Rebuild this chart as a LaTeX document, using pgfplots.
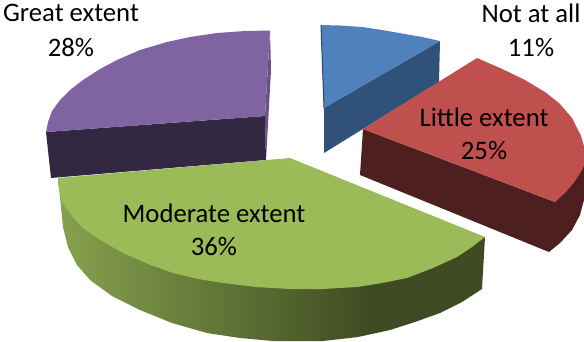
\documentclass[border=0pt]{standalone}
\usepackage{pgfplots}
\pgfplotsset{compat=1.18}
\usepackage{fontspec}
\setmainfont{Carlito}
\definecolor{blueTop}{HTML}{4F81BD}
\definecolor{blueEdge}{HTML}{27476E}
\definecolor{blueWall}{HTML}{30527A}
\definecolor{redTop}{HTML}{C0504D}
\definecolor{redWall}{HTML}{4D1F1F}
\definecolor{greenTop}{HTML}{9BBB59}
\definecolor{greenA}{HTML}{86A24D}
\definecolor{greenB}{HTML}{3E4A22}
\definecolor{purpleTop}{HTML}{8064A2}
\definecolor{purpleWall}{HTML}{332842}
\definecolor{purpleEdge}{HTML}{6A5288}
\pgfdeclarehorizontalshading{greenwall}{100bp}{color(0bp)=(greenA);color(25bp)=(greenA);color(62bp)=(greenB);color(100bp)=(greenB)}
\begin{document}
\begin{tikzpicture}
\begin{axis}[
  scale only axis, width=584pt, height=341pt,
  xmin=0, xmax=584, ymin=0, ymax=341, y dir=reverse,
  axis lines=none, clip=true,
  every axis plot/.append style={draw=none, line width=0pt},
]
% Page extent
\path (axis cs:0,0) rectangle (axis cs:584,341);
% Not at all: 11%
\addplot[fill=blueWall] coordinates {(440,41)(324,108)(324,153)(439,82)} -- cycle;
\addplot[fill=blueTop] coordinates {(321,25)(340,25.5)(362,27)(382,30)(402,33.5)(422,37)(440,41)(324,108)} -- cycle;
\addplot[fill=blueEdge] coordinates {(320.5,25)(321.5,25)(324.5,108)(323.5,108)} -- cycle;
% Great extent: 28%
\addplot[fill=purpleEdge] coordinates {(270,30.5)(271,70)(266,160)(265,116)} -- cycle;
\addplot[fill=purpleWall] coordinates {(46,132)(265,116)(266,160)(51,178)} -- cycle;
\addplot[fill=purpleTop] coordinates {(270,30.5)(245,31)(217,33)(190,37)(167,42)(140,50)(117,60)(100,69)(83,80)(70,90)(60,100)(52,111)(48,122)(46,132)(265,116)} -- cycle;
% Little extent: 25%
\addplot[fill=redWall] coordinates {(363,129)(555,202)(584,165)(584,200)(580,215)(572,230)(560,243)(549,252)(360,175)} -- cycle;
\addplot[fill=redTop] coordinates {(477,58)(500,68)(525,80)(545,92)(559,103)(572,118)(581,136)(584,146)(584,165)(582,170)(575,181)(566,192)(555,202)(363,129)} -- cycle;
% Moderate extent: 36%
\addplot[shade, shading=greenwall] coordinates {(58,178)(60,197)(63,227)(68,247)(77,265)(90,280)(112,296)(140,310)(172,323)(207,333)(240,338)(273,341)(323,341)(358,337)(390,330)(415,322)(440,313)(462,302)(482,289)(485,237)} -- cycle;
\addplot[fill=greenTop] coordinates {(290,158)(485,237)(472,247)(457,257)(433,268)(407,278)(382,283)(357,287)(323,289)(290,289)(256,287)(223,283)(198,279)(173,273)(148,264)(123,253)(102,241)(83,228)(72,216)(62,203)(59,190)(58,178)} -- cycle;
% Labels
\begin{scope}[every node/.style={font=\fontsize{26.7}{26.7}\selectfont, align=center, text=black, inner sep=0pt}]
\node at (axis cs:71,13) {Great extent};
\node at (axis cs:71,47) {28\%};
\node at (axis cs:531,13) {Not at all};
\node at (axis cs:531,47) {11\%};
\node at (axis cs:484,117) {Little extent};
\node at (axis cs:484,150) {25\%};
\node at (axis cs:214,213) {Moderate extent};
\node at (axis cs:214,246) {36\%};
\end{scope}
\end{axis}
\end{tikzpicture}
\end{document}
